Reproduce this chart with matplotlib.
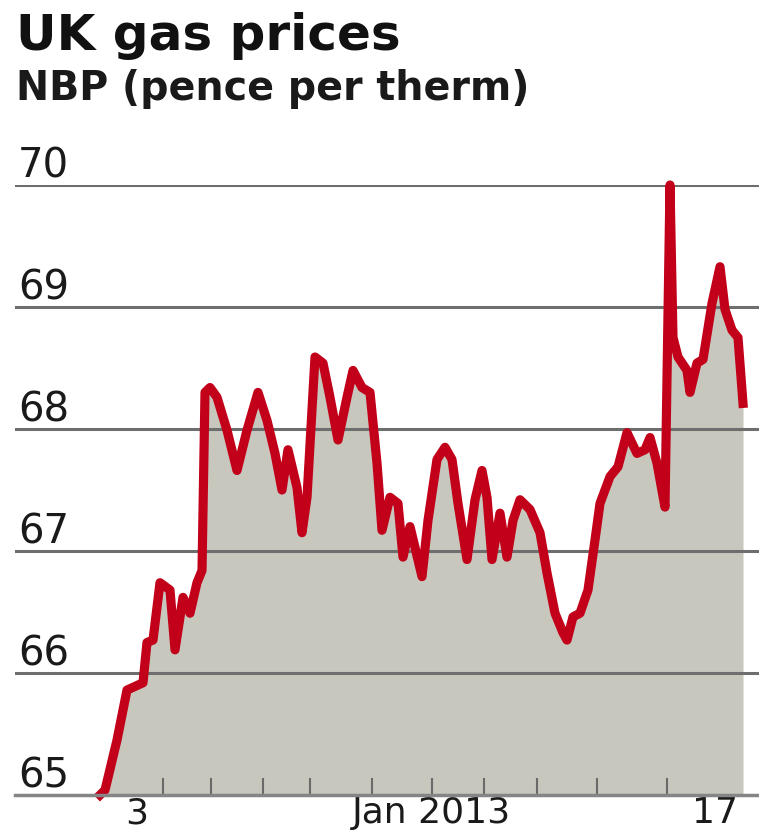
import matplotlib
matplotlib.use("Agg")
import matplotlib.pyplot as plt
from matplotlib.transforms import offset_copy

plt.rcParams["font.family"] = ["DejaVu Sans"]

# NBP price (pence per therm) against elapsed trading time
t = [0, 1, 3.4, 5.4, 7, 8.6, 9.4, 10.6, 12, 14, 15, 16.6, 18, 19.4, 20.4,
     21, 22, 23.4, 25.4, 27.4, 29.4, 31.6, 33.4, 35, 36.4, 37.6, 39.4, 40.4,
     41.4, 43, 44.6, 46, 47.6, 49.4, 50.6, 52.4, 54, 55.4, 56.4, 58, 59.6,
     60.6, 62, 64.4, 65.6, 67.4, 69, 70.4, 71.6, 73.4, 75, 76.4, 77.4, 78.4,
     80, 81.4, 82.6, 84, 86, 88, 89.4, 91, 92.6, 93.4, 94.6, 96, 97.6, 99,
     100, 102, 103.6, 105.4, 107.4, 109, 110, 111.4, 113, 114, 114.6, 115.6,
     117.4, 118, 119.4, 120.6, 122.4, 124, 125, 126.4, 127.6, 128.6]
price = [65.00, 65.04, 65.45, 65.86, 65.89, 65.92, 66.25, 66.27, 66.74, 66.68,
         66.19, 66.62, 66.49, 66.74, 66.84, 68.30, 68.34, 68.26, 67.99, 67.66,
         67.99, 68.30, 68.07, 67.80, 67.50, 67.83, 67.52, 67.15, 67.44, 68.59,
         68.54, 68.26, 67.91, 68.26, 68.48, 68.34, 68.30, 67.72, 67.17, 67.44,
         67.39, 66.95, 67.20, 66.79, 67.25, 67.75, 67.85, 67.75, 67.39, 66.93,
         67.42, 67.66, 67.44, 66.93, 67.31, 66.95, 67.25, 67.42, 67.34, 67.15,
         66.82, 66.49, 66.33, 66.27, 66.46, 66.49, 66.68, 67.09, 67.39, 67.61,
         67.69, 67.97, 67.80, 67.83, 67.93, 67.72, 67.36, 70.00, 68.75, 68.59,
         68.48, 68.30, 68.54, 68.57, 69.03, 69.33, 68.98, 68.81, 68.75, 68.21]

# start of each trading day after the first
day_starts = [12.6, 22.2, 32.6, 42.0, 54.4, 66.4, 76.8, 87.4, 99.4, 113.4]
date_pos = [7.4, 66.2, 123.0]
date_labels = ["3", "Jan 2013", "17"]
levels = [65, 66, 67, 68, 69, 70]

fig = plt.figure(figsize=(7.59, 8.40), dpi=100)
ax = fig.add_axes([15 / 759, 45 / 840, 744 / 759, 610 / 840])

ax.fill_between(t, price, levels[0], color="#c8c7bd", lw=0, zorder=1)
for v in levels[1:]:
    ax.axhline(v, color="#6e6e6e", lw=2.2, zorder=2)
ax.plot(t, price, color="#c2001a", lw=6.6, zorder=3, clip_on=False,
        solid_joinstyle="round")

ax.set_xlim(-17, 131.8)
ax.set_ylim(levels[0], levels[-1])

for side in ["top", "left", "right"]:
    ax.spines[side].set_visible(False)
ax.spines["bottom"].set_color("#858585")
ax.spines["bottom"].set_linewidth(2.5)
ax.spines["bottom"].set_zorder(4)

ax.set_yticks([])
ax.set_xticks(day_starts)
ax.set_xticklabels([])
ax.tick_params(axis="x", which="major", direction="in", length=12,
               width=1.5, color="#6a6a6a")
ax.set_xticks(date_pos, minor=True)
ax.set_xticklabels(date_labels, minor=True, fontsize=26, color="#1a1a1a")
ax.tick_params(axis="x", which="minor", length=0, pad=1)

# value labels sit just above each gridline
lab_tr = offset_copy(ax.get_yaxis_transform(), fig=fig, y=7, units="dots")
for v in levels:
    ax.text(0.004, v, str(v), transform=lab_tr, ha="left", va="baseline",
            fontsize=29, color="#1a1a1a", zorder=5)

fig.text(16 / 759, 1 - 50 / 840, "UK gas prices", fontsize=36,
         fontweight="bold", va="baseline", color="#111111")
fig.text(16 / 759, 1 - 100 / 840, "NBP (pence per therm)", fontsize=28.5,
         fontweight="bold", va="baseline", color="#1a1a1a")

fig.savefig("out.png", dpi=100, facecolor="white")
